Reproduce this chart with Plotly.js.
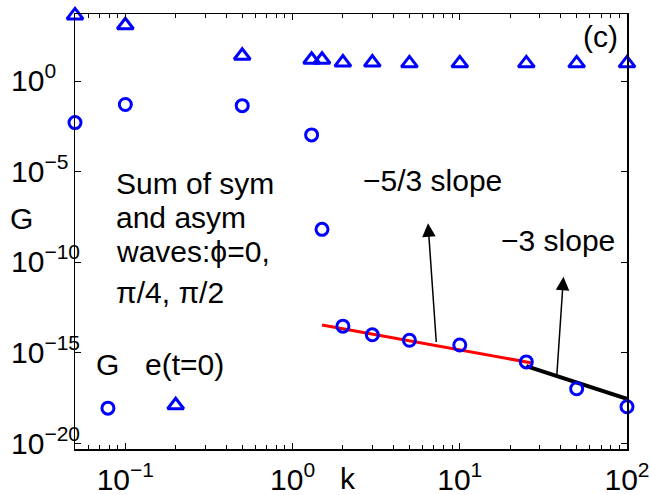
<!DOCTYPE html>
<html>
<head>
<meta charset="utf-8">
<script src="https://cdn.plot.ly/plotly-3.0.1.min.js"></script>
<style>html,body{margin:0;padding:0;background:#fff;}#chart{width:650px;height:495px;}</style>
</head>
<body>
<div id="chart"></div>
<script>
// G (circles)
const gK = [0.05, 0.1, 0.5, 1.3, 1.5, 2, 3, 5, 10, 25, 50, 100];
const gVal = [5.1e-3, 5.1e-2, 4.4e-2, 1.07e-3, 6.6e-9, 3.0e-14, 1.0e-14, 5.0e-15, 2.75e-15, 3.2e-16, 1.05e-17, 1.07e-18];
// e(t=0) (triangles)
const eK = [0.05, 0.1, 0.5, 1.3, 1.5, 2, 3, 5, 10, 25, 50, 100];
const eVal = [4.2e3, 1.2e3, 25, 15, 15, 10.5, 10.5, 9.5, 9.5, 9.5, 9.5, 9.5];
// slope fits
const redK = [1.5, 27];
const redVal = [3.47e-14, 2.8e-16];
const blackK = [25, 100];
const blackVal = [1.86e-16, 2.9e-18];
// in-plot legend markers
const legCircK = [0.0787];
const legCircVal = [9.0e-19];
const legTriK = [0.2];
const legTriVal = [1.3e-18];
// tick labels
const xTickVals = [0.1, 1, 10, 100];
const xTickText = ['10<sup>−1</sup>', '10<sup>0</sup>', '10<sup>1</sup>', '10<sup>2</sup>'];
const yTickVals = [1e-20, 1e-15, 1e-10, 1e-5, 1];
const yTickText = ['10<sup>−20</sup>', '10<sup>−15</sup>', '10<sup>−10</sup>', '10<sup>−5</sup>', '10<sup>0</sup>'];

const FONT = 'Liberation Sans, Arial, Helvetica, sans-serif';
const FS = 30;
const blue = '#0000ff';

const minorX = [];
for (let d = -2; d <= 1; d++) {
  for (let m = 2; m <= 9; m++) {
    const v = m * Math.pow(10, d);
    if (v > 0.05 && v < 100) minorX.push(v);
  }
}

const traces = [
  {x: redK, y: redVal, mode: 'lines', line: {color: '#ff0000', width: 3}, showlegend: false},
  {x: blackK, y: blackVal, mode: 'lines', line: {color: '#000000', width: 4}, showlegend: false},
  {x: gK, y: gVal, mode: 'markers', cliponaxis: false,
   marker: {symbol: 'circle-open', size: 12, color: blue, line: {width: 3, color: blue}}, showlegend: false},
  {x: eK, y: eVal, mode: 'markers', cliponaxis: false,
   marker: {symbol: 'triangle-up-open', size: 14, color: blue, line: {width: 3, color: blue}}, showlegend: false},
  {x: legCircK, y: legCircVal, mode: 'markers', cliponaxis: false,
   marker: {symbol: 'circle-open', size: 12, color: blue, line: {width: 3, color: blue}}, showlegend: false},
  {x: legTriK, y: legTriVal, mode: 'markers', cliponaxis: false,
   marker: {symbol: 'triangle-up-open', size: 14, color: blue, line: {width: 3, color: blue}}, showlegend: false}
];

const L = 75, T = 14, W = 552, H = 435;
const px = (p) => (p - L) / W;
const py = (p) => (T + H - p) / H;

function txt(text, xp, yp, xanchor) {
  return {text: text, xref: 'paper', yref: 'paper', x: px(xp), y: py(yp),
          xanchor: xanchor || 'center', yanchor: 'middle', showarrow: false,
          font: {family: FONT, size: FS, color: '#000'}};
}

const annotations = [
  txt('Sum of sym', 114, 183, 'left'),
  txt('and asym', 114, 217, 'left'),
  txt('waves:ϕ=0,', 114, 251, 'left'),
  txt('π/4, π/2', 114, 292, 'left'),
  txt('−5/3 slope', 432, 181),
  txt('−3 slope', 558, 240),
  txt('(c)', 600, 37),
  txt('G', 107, 364),
  txt('e(t=0)', 184, 364),
  txt('G', 21, 218),
  txt('k', 348, 479),
  {x: 0.81, y: -7.85, ax: 0.86, ay: -14.48, xref: 'x', yref: 'y', axref: 'x', ayref: 'y',
   showarrow: true, arrowhead: 2, arrowsize: 1.8, arrowwidth: 1.5, arrowcolor: '#000', text: ''},
  {x: 1.62, y: -10.80, ax: 1.58, ay: -16.28, xref: 'x', yref: 'y', axref: 'x', ayref: 'y',
   showarrow: true, arrowhead: 2, arrowsize: 1.8, arrowwidth: 1.5, arrowcolor: '#000', text: ''}
];

// y tick labels, left-aligned as in the reference
yTickVals.forEach((v, i) => {
  annotations.push({text: yTickText[i], xref: 'paper', yref: 'y', x: px(9), y: Math.log10(v),
    xanchor: 'left', yanchor: 'middle', yshift: 3, showarrow: false,
    font: {family: FONT, size: FS, color: '#000'}});
});

const layout = {
  width: 650, height: 495,
  margin: {l: L, r: 650 - L - W, t: T, b: 495 - T - H, pad: 0},
  paper_bgcolor: '#fff', plot_bgcolor: '#fff',
  font: {family: FONT, size: FS, color: '#000'},
  showlegend: false,
  xaxis: {
    type: 'log', range: [Math.log10(0.05), 2],
    showgrid: false, zeroline: false,
    showline: true, linecolor: '#000', linewidth: 1.5, mirror: 'allticks',
    ticks: 'inside', ticklen: 6, tickwidth: 1, tickcolor: '#000',
    tickvals: xTickVals, ticktext: xTickText, ticklabelstandoff: 3,
    tickfont: {family: FONT, size: FS, color: '#000'},
    minor: {tickvals: minorX, ticks: 'inside', ticklen: 4, tickwidth: 1, tickcolor: '#000', showgrid: false}
  },
  yaxis: {
    type: 'log', range: [-20.3, 3.7],
    showgrid: false, zeroline: false,
    showline: true, linecolor: '#000', linewidth: 1.5, mirror: 'allticks',
    ticks: 'inside', ticklen: 6, tickwidth: 1, tickcolor: '#000',
    tickvals: yTickVals, showticklabels: false
  },
  annotations: annotations
};

Plotly.newPlot('chart', traces, layout, {staticPlot: true, displayModeBar: false});
</script>
</body>
</html>
